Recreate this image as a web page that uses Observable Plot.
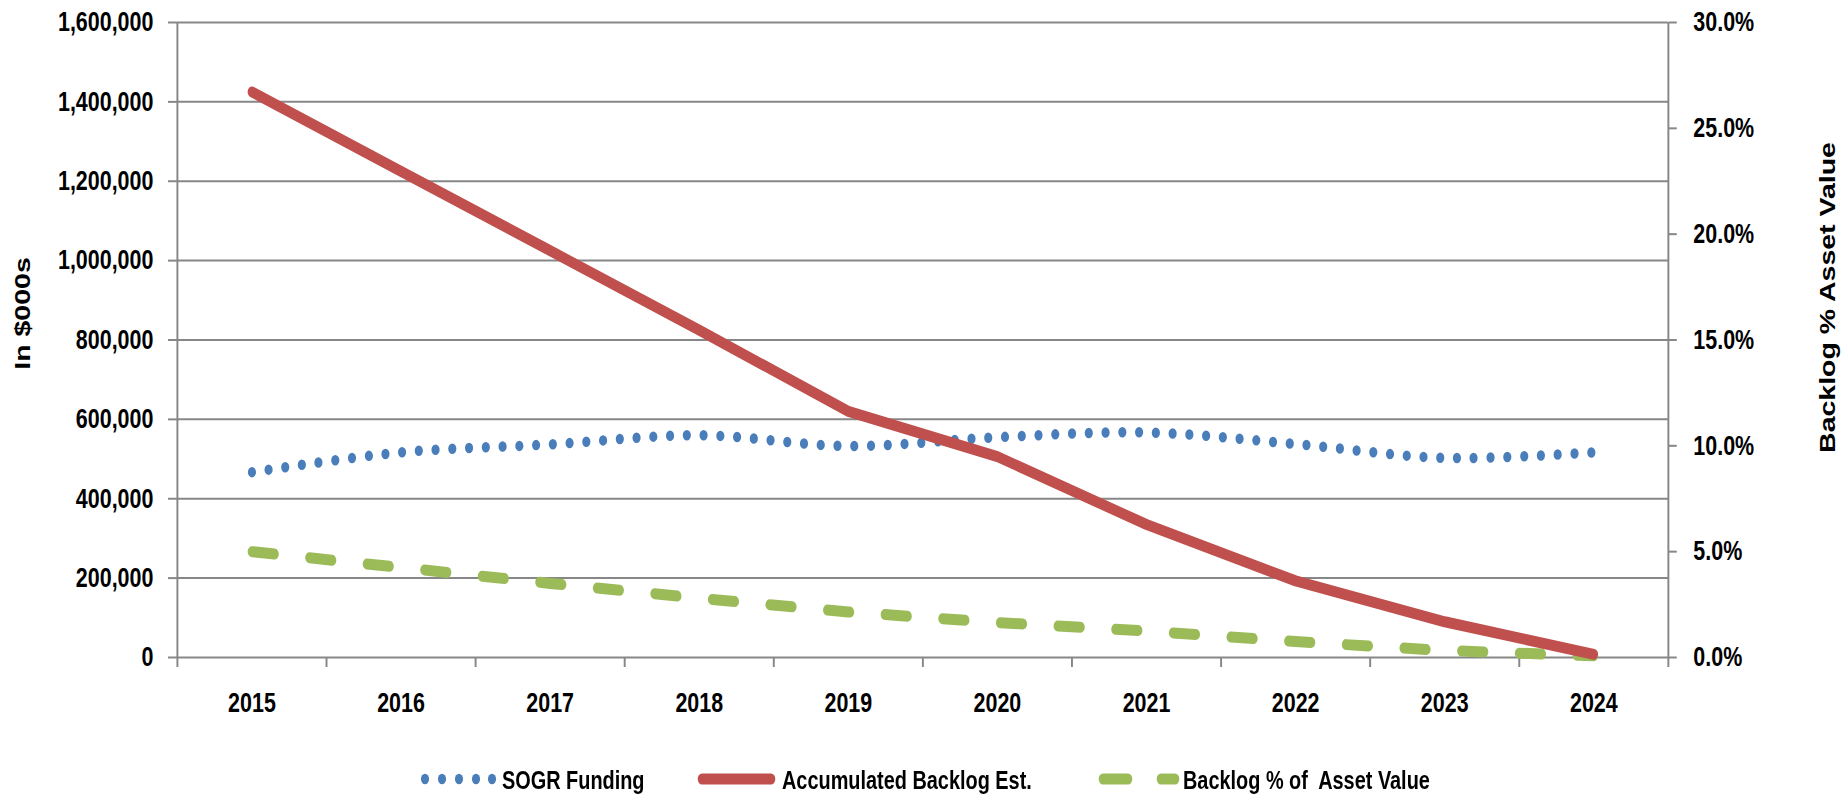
<!DOCTYPE html>
<html>
<head>
<meta charset="utf-8">
<script src="https://cdn.jsdelivr.net/npm/d3@7"></script>
<script src="https://cdn.jsdelivr.net/npm/@observablehq/plot@0.6"></script>
<style>
  html, body { margin: 0; padding: 0; background: #fff; overflow: hidden; }
  #outer { position: relative; width: 1847px; height: 795px; overflow: hidden; }
  #wrap { position: absolute; left: 0; top: 0; height: 795px; transform-origin: 0 0; }
  .lg { position: absolute; top: 765px; font-family: 'Liberation Sans', Arial, sans-serif; font-weight: bold; font-size: 25.5px; line-height: 30px; color: #000; white-space: pre; }
  #lgsym { position: absolute; left: 0; top: 750px; }
</style>
</head>
<body>
<div id="outer"><div id="wrap"></div></div>
<script>
const years = [2015, 2016, 2017, 2018, 2019, 2020, 2021, 2022, 2023, 2024];
const sogrFunding = [467000, 517000, 537000, 560000, 533000, 555000, 567000, 538000, 503000, 517000];
const accumulatedBacklog = [1425000, 1225000, 1025000, 825000, 620000, 506000, 335000, 193000, 90000, 8000];
const backlogPct = [5.0, 4.25, 3.5, 2.8, 2.15, 1.65, 1.25, 0.75, 0.33, 0.08];
const leftTicks = [0, 200000, 400000, 600000, 800000, 1000000, 1200000, 1400000, 1600000];
const rightTicks = [0, 5, 10, 15, 20, 25, 30];
const seriesNames = ["SOGR Funding", "Accumulated Backlog Est.", "Backlog % of  Asset Value"];
const leftTitle = "In $000s";
const rightTitle = "Backlog % Asset Value";

// the reference is horizontally condensed; draw wide and compress
const S = 0.78;
const LMAX = 1600000, RMAX = 30;
const toLeft = p => p * LMAX / RMAX;
const data = years.map((y, i) => ({year: y, sogr: sogrFunding[i], backlog: accumulatedBacklog[i], pct: backlogPct[i]}));
const edges = d3.range(years.length + 1).map(i => years[0] - 0.5 + i);
const inner = edges.slice(1, -1);
const outer = [edges[0], edges[edges.length - 1]];

const GRID = "#878787";
const FONT = "'Liberation Sans', Arial, sans-serif";
const W = 1847 / S;

const chart = Plot.plot({
  width: W,
  height: 750,
  marginLeft: 177 / S,
  marginRight: 179 / S,
  marginTop: 22,
  marginBottom: 93,
  style: {fontFamily: FONT, fontWeight: "bold", fontSize: "27.5px", color: "#000", background: "#fff"},
  x: {type: "linear", domain: [edges[0], edges[edges.length - 1]]},
  y: {type: "linear", domain: [0, LMAX]},
  marks: [
    Plot.ruleY(leftTicks, {stroke: GRID, strokeWidth: 2}),
    Plot.ruleX(outer, {stroke: GRID, strokeWidth: 2.5, insetBottom: -10}),
    Plot.axisX({ticks: inner, tickSize: 10, tickFormat: () => "", stroke: GRID, strokeWidth: 2.5, label: null}),
    Plot.axisX({ticks: years, tickSize: 0, tickPadding: 35, tickFormat: d => String(d), label: null, fill: "#000"}),
    Plot.axisY({anchor: "left", ticks: leftTicks, tickSize: 9 / S, tickPadding: 15 / S, tickFormat: d3.format(","), stroke: GRID, strokeWidth: 2, fill: "#000", label: null}),
    Plot.axisY({anchor: "right", ticks: rightTicks.map(toLeft), tickSize: 8 / S, tickPadding: 17 / S, tickFormat: v => (v * RMAX / LMAX).toFixed(1) + "%", stroke: GRID, strokeWidth: 2, fill: "#000", label: null}),
    Plot.text([leftTitle], {text: d => d, frameAnchor: "left", textAnchor: "middle", dx: -155 / S, dy: -26.5, rotate: -90, fontSize: 28.5, fontFamily: FONT, fontWeight: "bold", fill: "#000"}),
    Plot.text([rightTitle], {text: d => d, frameAnchor: "right", textAnchor: "middle", dx: 160 / S, dy: -42.5, rotate: -90, fontSize: 28.5, fontFamily: FONT, fontWeight: "bold", fill: "#000"}),
    Plot.line(data, {x: "year", y: d => toLeft(d.pct), stroke: "#9BBB59", strokeWidth: 11, strokeDasharray: "29 45", strokeLinecap: "round"}),
    Plot.line(data, {x: "year", y: "sogr", curve: "catmull-rom", stroke: "#4A7EBB", strokeWidth: 10.5, strokeDasharray: "0 21.5", strokeLinecap: "round"}),
    Plot.line(data, {x: "year", y: "backlog", stroke: "#C0504D", strokeWidth: 11, strokeLinecap: "round", strokeLinejoin: "round"})
  ]
});
const wrap = document.getElementById("wrap");
wrap.style.width = W + "px";
wrap.style.transform = `scaleX(${S})`;
wrap.appendChild(chart);

// Legend below the chart (coordinates given in on-screen px, divided by S)
const lg = d3.select(wrap).append("svg").attr("id", "lgsym").attr("width", W).attr("height", 45);
const cy = 29;
[425, 442, 459, 476, 492].forEach(cx => lg.append("ellipse").attr("cx", cx / S).attr("cy", cy).attr("rx", 5.2).attr("ry", 5.2).attr("fill", "#4A7EBB"));
const seg = (x1, x2, color) => lg.append("line").attr("x1", x1 / S).attr("x2", x2 / S).attr("y1", cy).attr("y2", cy).attr("stroke", color).attr("stroke-width", 11).attr("stroke-linecap", "round");
seg(702, 771, "#C0504D");
seg(1103, 1128, "#9BBB59");
seg(1161, 1175, "#9BBB59");
const textLefts = [502, 782, 1183];
seriesNames.forEach((name, i) => {
  d3.select(wrap).append("div").attr("class", "lg").style("left", (textLefts[i] / S) + "px").text(name);
});
</script>
</body>
</html>
